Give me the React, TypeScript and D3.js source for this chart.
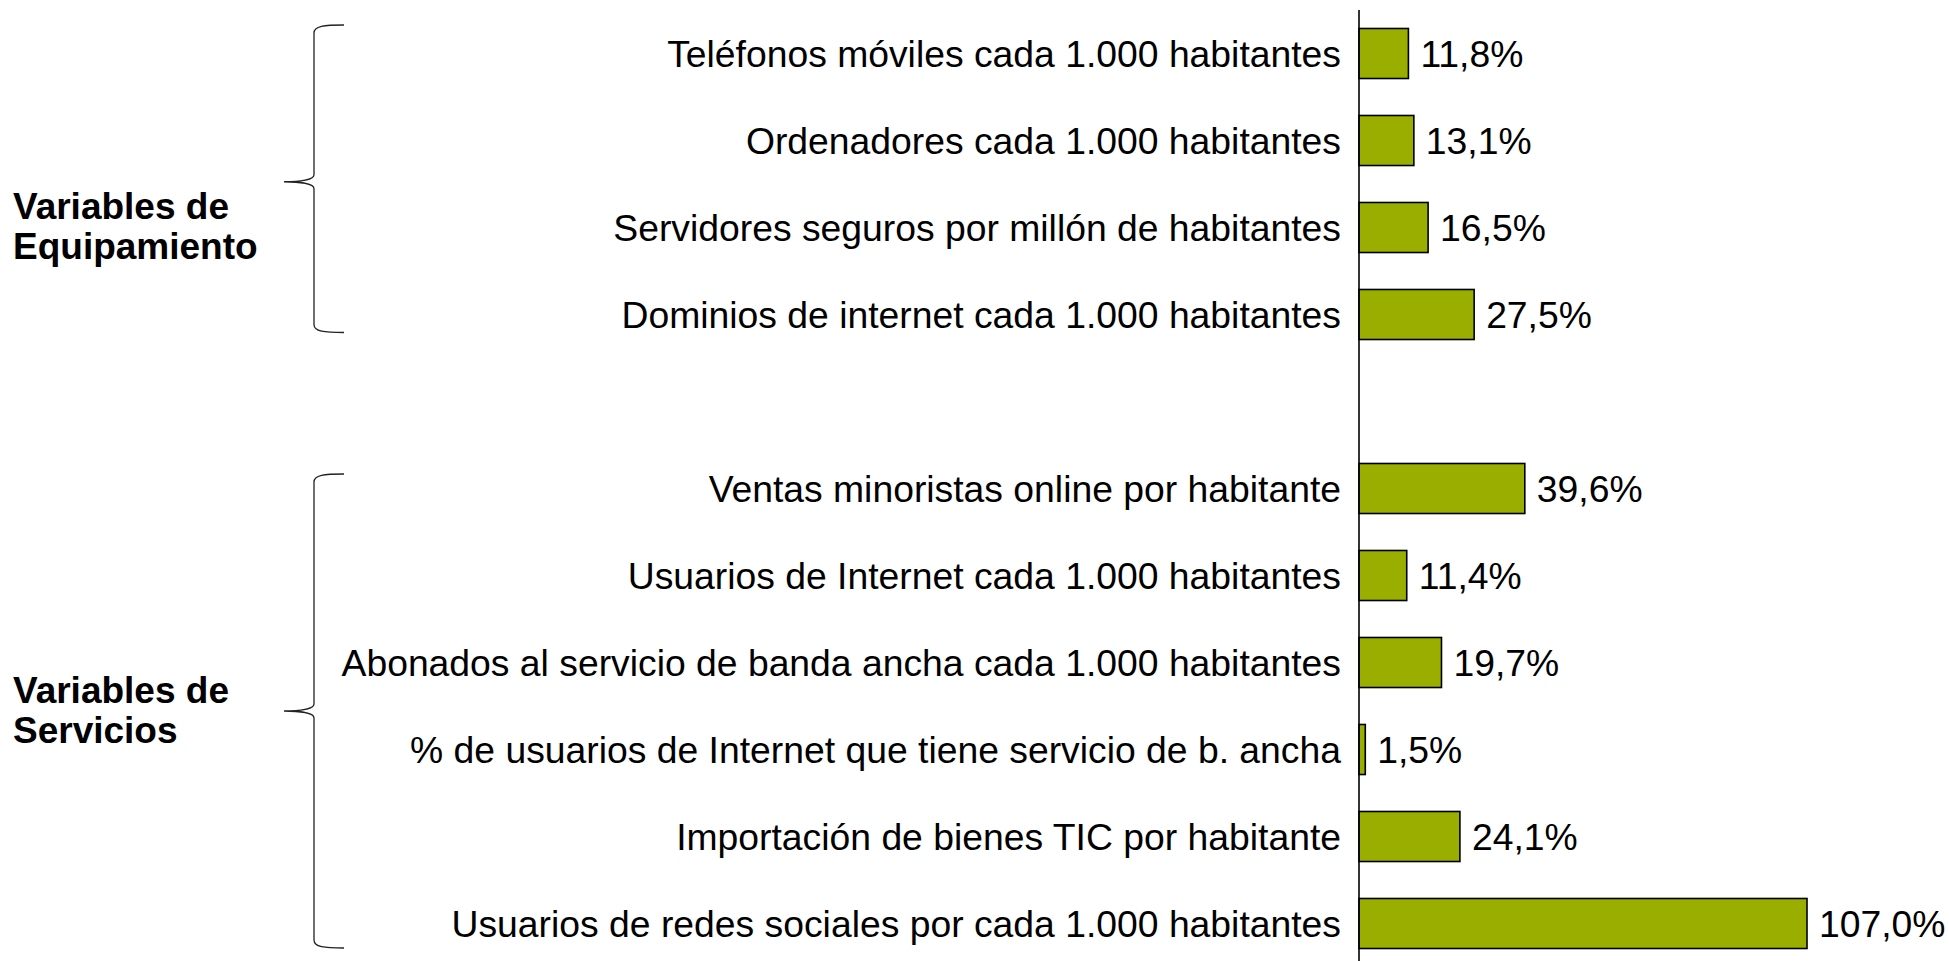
import React from "react";
import * as d3 from "d3";

const categories: string[] = [
  "Teléfonos móviles cada 1.000 habitantes",
  "Ordenadores cada 1.000 habitantes",
  "Servidores seguros por millón de habitantes",
  "Dominios de internet cada 1.000 habitantes",
  "Ventas minoristas online por habitante",
  "Usuarios de Internet cada 1.000 habitantes",
  "Abonados al servicio de banda ancha cada 1.000 habitantes",
  "% de usuarios de Internet que tiene servicio de b. ancha",
  "Importación de bienes TIC por habitante",
  "Usuarios de redes sociales por cada 1.000 habitantes",
];
const values: number[] = [11.8, 13.1, 16.5, 27.5, 39.6, 11.4, 19.7, 1.5, 24.1, 107.0];
const groupOf: number[] = [0, 0, 0, 0, 1, 1, 1, 1, 1, 1];
const groupLabels: string[][] = [
  ["Variables de", "Equipamiento"],
  ["Variables de", "Servicios"],
];
const valueLabels: string[] = values.map((v) => v.toFixed(1).replace(".", ",") + "%");

const W = 1949;
const H = 961;
const FONT = "'Liberation Sans', Arial, Helvetica, sans-serif";
const SPACER = "__spacer__";

export default function App() {
  const domain = [...categories.slice(0, 4), SPACER, ...categories.slice(4)];
  const y = d3.scaleBand<string>().domain(domain).range([10, 967]).paddingInner(0.425).paddingOuter(0.2125);
  const x = d3.scaleLinear().domain([0, 107]).range([1359, 1807]);
  const bw = y.bandwidth();

  const brackets = groupLabels.map((lines, g) => {
    const idx = categories.map((_, i) => i).filter((i) => groupOf[i] === g);
    const first = categories[idx[0]];
    const last = categories[idx[idx.length - 1]];
    const t0 = y(first)!;
    const b0 = y(last)! + bw;
    const top = g === 0 ? t0 - 3.5 : t0 + 10.5;
    const bottom = g === 0 ? b0 - 7 : b0 - 0.5;
    const mid = g === 0 ? (top + bottom) / 2 + 3 : (top + bottom) / 2;
    const baseline = g === 0 ? mid + 37 : mid - 8;
    return { lines, top, bottom, mid, baseline };
  });

  const bx = 314;
  const bRight = 344;
  const bLeft = 284;

  return (
    <svg width={W} height={H} style={{ position: "absolute", left: 0, top: 0, background: "#fff" }}>
      <rect x={0} y={0} width={W} height={H} fill="#ffffff" />
      {brackets.map((b, i) => (
        <g key={i}>
          <path
            d={`M ${bRight} ${b.top} C ${324} ${b.top}, ${bx} ${b.top + 1}, ${bx} ${b.top + 8} L ${bx} ${b.mid - 7} C ${bx} ${b.mid - 2}, ${300} ${b.mid}, ${bLeft} ${b.mid} C ${300} ${b.mid}, ${bx} ${b.mid + 2}, ${bx} ${b.mid + 7} L ${bx} ${b.bottom - 8} C ${bx} ${b.bottom - 1}, ${324} ${b.bottom}, ${bRight} ${b.bottom}`}
            fill="none"
            stroke="#222"
            strokeWidth={1.3}
          />
          {b.lines.map((t, j) => (
            <text
              key={j}
              x={13}
              y={b.baseline + j * 40}
              fontFamily={FONT}
              fontWeight="bold"
              fontSize={37}
              fill="#000"
            >
              {t}
            </text>
          ))}
        </g>
      ))}
      {categories.map((c, i) => (
        <g key={c}>
          <text
            x={1341}
            y={y(c)! + bw / 2}
            dy="0.35em"
            textAnchor="end"
            fontFamily={FONT}
            fontSize={37.3}
            fill="#000"
          >
            {c}
          </text>
          <rect
            x={x(0)}
            y={y(c)!}
            width={x(values[i]) - x(0)}
            height={bw}
            fill="#9aae00"
            stroke="#000"
            strokeWidth={1.6}
          />
          <text
            x={x(values[i]) + 12}
            y={y(c)! + bw / 2}
            dy="0.35em"
            fontFamily={FONT}
            fontSize={37.3}
            fill="#000"
          >
            {valueLabels[i]}
          </text>
        </g>
      ))}
      <line x1={x(0)} x2={x(0)} y1={10} y2={967} stroke="#000" strokeWidth={1.6} />
    </svg>
  );
}
